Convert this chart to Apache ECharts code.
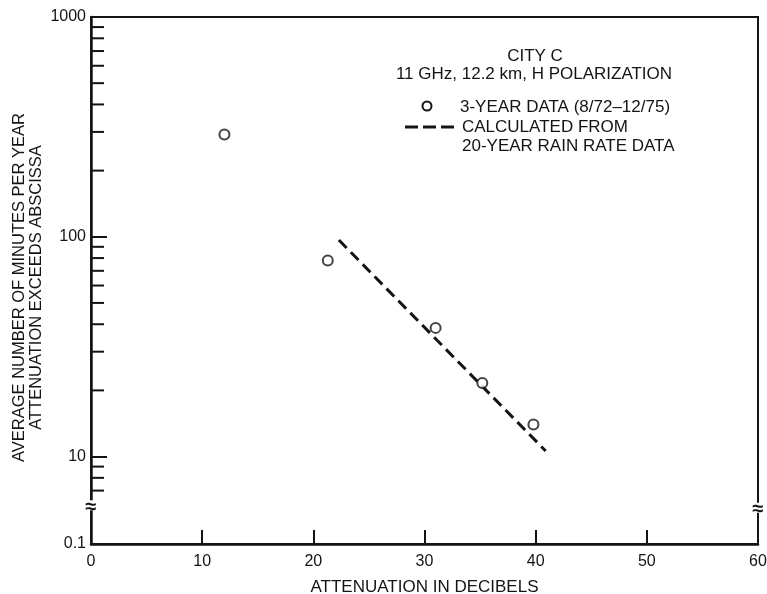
<!DOCTYPE html>
<html>
<head>
<meta charset="utf-8">
<script src="https://cdn.jsdelivr.net/npm/echarts@6/dist/echarts.min.js"></script>
<style>
  html, body { margin: 0; padding: 0; background: #fff; }
  #chart { width: 767px; height: 594px; }
</style>
</head>
<body>
<div id="chart"></div>
<script>
// measured points (attenuation dB, minutes per year)
const dataAtten = [12, 21.3, 31, 35.2, 39.8];
const dataMinutes = [292, 78, 38.5, 21.6, 14];
// calculated line end points
const calcAtten = [22.3, 40.9];
const calcMinutes = [96.6, 10.6];
// minor ticks on log axis
const minorTickVals = [7, 8, 9, 20, 30, 40, 50, 60, 70, 80, 90, 200, 300, 400, 500, 600, 700, 800, 900];
const xTicks = [0, 10, 20, 30, 40, 50, 60];

const FONT = '"Liberation Sans", Arial, sans-serif';
const INK = '#141414';

const chart = echarts.init(document.getElementById('chart'), null, { renderer: 'canvas' });

const option = {
  animation: false,
  backgroundColor: '#fff',
  grid: {
    left: 91, right: 9, top: 17, bottom: 50,
    outerBoundsMode: 'none',
    containLabel: false,
    show: true, borderColor: INK, borderWidth: 2
  },
  xAxis: {
    type: 'value',
    min: xTicks[0],
    max: xTicks[xTicks.length - 1],
    interval: 10,
    name: 'ATTENUATION IN DECIBELS',
    nameLocation: 'middle',
    nameGap: 35,
    nameMoveOverlap: false,
    nameTextStyle: { color: INK, fontSize: 17, fontFamily: FONT },
    axisLine: { lineStyle: { color: INK, width: 2.5 } },
    axisTick: { inside: true, length: 14, lineStyle: { color: INK, width: 2 } },
    axisLabel: { color: INK, fontSize: 16, fontFamily: FONT, margin: 10 },
    splitLine: { show: false }
  },
  yAxis: {
    type: 'log',
    logBase: 10,
    min: 4,
    max: 1000,
    name: 'AVERAGE NUMBER OF MINUTES PER YEAR\nATTENUATION EXCEEDS ABSCISSA',
    nameLocation: 'middle',
    nameGap: 46,
    nameMoveOverlap: false,
    nameTextStyle: { color: INK, fontSize: 16.5, fontFamily: FONT, lineHeight: 17, padding: [0, 14, 0, 0] },
    axisLine: { lineStyle: { color: INK, width: 2.5 } },
    axisTick: { inside: true, length: 16, lineStyle: { color: INK, width: 2 } },
    axisLabel: {
      color: INK, fontSize: 16, fontFamily: FONT, margin: 5,
      formatter(v) {
        if (v < 5) return '0.1';
        return String(Math.round(v));
      }
    },
    splitLine: { show: false }
  },
  series: [
    {
      type: 'custom',
      name: 'minorTicks',
      silent: true,
      clip: false,
      data: minorTickVals.map((v) => [0, v]),
      renderItem(params, api) {
        const p = api.coord([api.value(0), api.value(1)]);
        return {
          type: 'line',
          shape: { x1: p[0], y1: p[1], x2: p[0] + 13, y2: p[1] },
          style: { stroke: INK, lineWidth: 2 }
        };
      }
    },
    {
      type: 'line',
      name: 'calculated',
      data: calcAtten.map((x, i) => [x, calcMinutes[i]]),
      symbol: 'none',
      lineStyle: { color: INK, width: 3, type: [11, 6] },
      z: 3
    },
    {
      type: 'scatter',
      name: 'measured',
      data: dataAtten.map((x, i) => [x, dataMinutes[i]]),
      symbol: 'emptyCircle',
      symbolSize: 10,
      itemStyle: { color: INK, borderColor: INK, borderWidth: 2 },
      z: 4
    }
  ]
};

chart.setOption(option);

// legend / caption and axis break marks
function drawDecor() {
  const brkL = chart.convertToPixel({ gridIndex: 0 }, [0, 6]);
  const brkR = chart.convertToPixel({ gridIndex: 0 }, [60, 5.85]);
  const txt = (x, y, s, align) => ({
    type: 'text', x, y,
    style: { text: s, fill: INK, font: '17px ' + FONT, textAlign: align || 'left', textVerticalAlign: 'middle' }
  });
  const brk = (p) => [
    { type: 'rect', shape: { x: p[0] - 3, y: p[1] - 5, width: 6, height: 10 }, style: { fill: '#fff' }, z: 10 },
    { type: 'text', x: p[0], y: p[1] + 2, z: 11,
      style: { text: '≈', fill: INK, font: 'bold 20px ' + FONT, textAlign: 'center', textVerticalAlign: 'middle' } }
  ];
  chart.setOption({
    graphic: [
      txt(535, 56, 'CITY C', 'center'),
      txt(534, 74, '11 GHz, 12.2 km, H POLARIZATION', 'center'),
      { type: 'circle', shape: { cx: 427, cy: 106, r: 4.5 }, style: { fill: '#fff', stroke: INK, lineWidth: 2 } },
      txt(460, 107, '3-YEAR DATA (8/72–12/75)'),
      { type: 'line', shape: { x1: 405, y1: 127, x2: 455, y2: 127 },
        style: { stroke: INK, lineWidth: 3, lineDash: [13, 5] } },
      txt(462, 127, 'CALCULATED FROM'),
      txt(462, 146, '20-YEAR RAIN RATE DATA'),
      ...brk(brkL),
      ...brk(brkR)
    ]
  });
}
drawDecor();
</script>
</body>
</html>
